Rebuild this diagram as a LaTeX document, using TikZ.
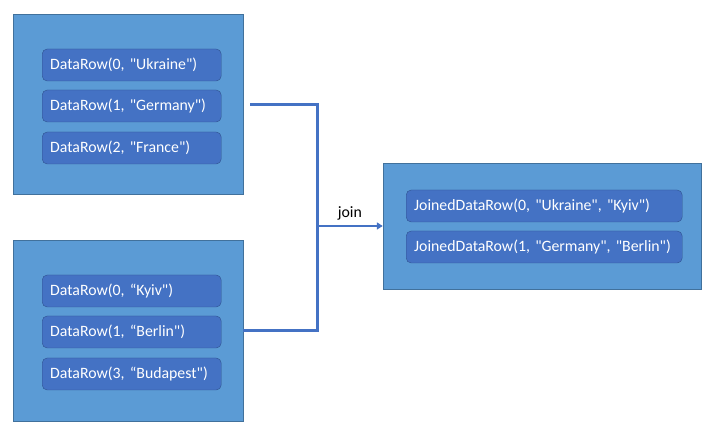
\documentclass[tikz,border=0pt]{standalone}
\usepackage{fontspec}
\setmainfont{Carlito}[Ligatures=TeXOff]
\usepackage{xcolor}
\usetikzlibrary{arrows.meta}
\definecolor{outerblue}{HTML}{5B9BD5}
\definecolor{outeredge}{HTML}{41719C}
\definecolor{rowblue}{HTML}{4472C4}
\definecolor{rowedge}{HTML}{2F528F}

\begin{document}
\begin{tikzpicture}
                \tikzset{x={(1pt, 0pt)}, y={(0pt, -1pt)}}
                \tikzset{table/.style={draw=outeredge, fill=outerblue, inner sep=0pt},
                         datarow/.style={draw=rowedge, fill=rowblue, rounded corners=5pt, text=white,
                             font=\fontsize{15.8}{18}\selectfont, anchor=west, inner sep=0pt,
                             minimum height=32pt, text width=179pt, align=left},
                         link/.style={draw=rowblue, line width=3pt}}
                \useasboundingbox (0, 0) rectangle (718, 435);
                % left tables
                \node[table, minimum width=230pt, minimum height=180pt] (countries) at (128, 104) {};
                \node[table, minimum width=230pt, minimum height=181pt] (cities) at (128, 330.5) {};
                \node[datarow] (c0) at (42,  65) {\hspace{8pt}DataRow(0, "Ukraine")};
                \node[datarow] (c1) at (42, 106) {\hspace{8pt}DataRow(1, "Germany")};
                \node[datarow] (c2) at (42, 148) {\hspace{8pt}DataRow(2, "France")};
                \node[datarow] (t0) at (42, 291) {\hspace{8pt}DataRow(0, “Kyiv")};
                \node[datarow] (t1) at (42, 332) {\hspace{8pt}DataRow(1, “Berlin")};
                \node[datarow] (t2) at (42, 374) {\hspace{8pt}DataRow(3, “Budapest")};
                % result table
                \node[table, minimum width=318pt, minimum height=126pt] (joined) at (542, 226) {};
                \node[datarow, text width=276pt] (j0) at (406, 206) {\hspace{8pt}JoinedDataRow(0, "Ukraine", "Kyiv")};
                \node[datarow, text width=276pt] (j1) at (406, 247) {\hspace{8pt}JoinedDataRow(1, "Germany", "Berlin")};
                % join lines
                \coordinate (countriesout) at ([xshift=7pt, yshift=-1pt]countries.east);
                \coordinate (merge) at (317, 226);
                \draw[link] (countriesout) -| (merge);
                \draw[link] (cities.east) -| (merge);
                \draw[link, line width=2.6pt, -{Triangle[length=6pt, width=7pt]}] (merge) -- (joined.west)
                    node[midway, above=1pt, text=black, font=\fontsize{15.8}{18}\selectfont] (joinlabel) {join};
            \end{tikzpicture}
\end{document}
